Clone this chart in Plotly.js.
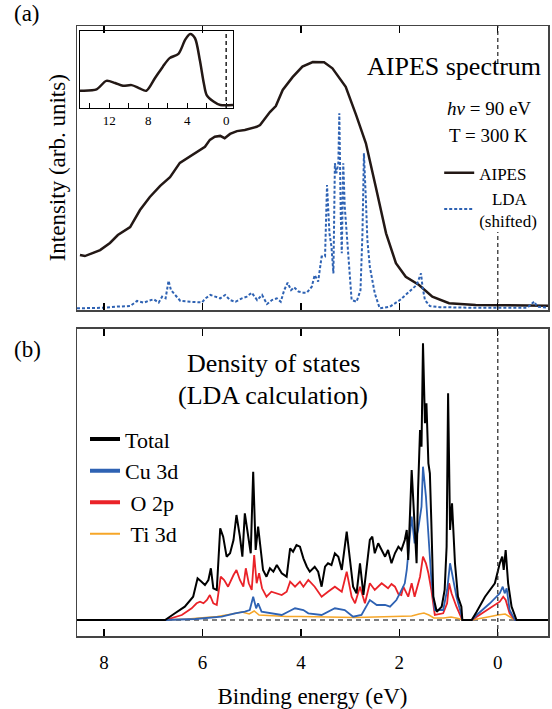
<!DOCTYPE html>
<html>
<head>
<meta charset="utf-8">
<script src="https://cdn.plot.ly/plotly-3.0.1.min.js"></script>
<style>
body{margin:0;padding:0;background:#fff;}
#chart{width:552px;height:709px;}
</style>
</head>
<body>
<div id="chart"></div>
<script>
// ---- Panel (a): AIPES spectrum ----
const aipesE = [8.49, 8.39, 8.08, 7.88, 7.72, 7.47, 7.27, 7.07, 6.86, 6.66, 6.46, 6.21, 6.05, 5.95, 5.85, 5.75, 5.64, 5.55, 5.44, 5.30, 5.14, 5.00, 4.90, 4.83, 4.63, 4.51, 4.37, 4.17, 3.97, 3.76, 3.53, 3.36, 3.09, 2.88, 2.68, 2.48, 2.27, 2.07, 1.87, 1.60, 1.33, 0.99, 0.45, -1.02];
const aipesV = [0.194, 0.190, 0.211, 0.236, 0.264, 0.292, 0.352, 0.398, 0.437, 0.468, 0.518, 0.546, 0.563, 0.575, 0.599, 0.610, 0.613, 0.605, 0.620, 0.630, 0.634, 0.640, 0.645, 0.651, 0.697, 0.718, 0.775, 0.820, 0.857, 0.873, 0.872, 0.851, 0.786, 0.687, 0.587, 0.434, 0.270, 0.165, 0.117, 0.088, 0.047, 0.024, 0.018, 0.015];

const ldaE = [8.55, 8.01, 7.74, 7.47, 7.33, 7.19, 7.09, 6.99, 6.89, 6.82, 6.75, 6.69, 6.64, 6.59, 6.52, 6.45, 6.25, 6.01, 5.94, 5.84, 5.74, 5.64, 5.54, 5.44, 5.33, 5.20, 5.10, 5.00, 4.89, 4.79, 4.69, 4.59, 4.49, 4.41, 4.34, 4.27, 4.20, 4.14, 4.05, 3.95, 3.88, 3.78, 3.72, 3.65, 3.58, 3.51, 3.47, 3.42, 3.38, 3.34, 3.31, 3.28, 3.24, 3.22, 3.19, 3.17, 3.14, 3.11, 3.07, 3.02, 2.97, 2.87, 2.79, 2.75, 2.72, 2.68, 2.65, 2.60, 2.50, 2.40, 2.19, 1.99, 1.79, 1.65, 1.56, 1.53, 1.48, 1.38, 1.18, 0.50, -0.60, -0.70, -0.74, -0.80, -1.02];
const ldaV = [0.006, 0.008, 0.012, 0.014, 0.032, 0.026, 0.033, 0.038, 0.026, 0.047, 0.041, 0.103, 0.070, 0.059, 0.047, 0.032, 0.029, 0.027, 0.041, 0.053, 0.047, 0.041, 0.053, 0.035, 0.029, 0.041, 0.047, 0.061, 0.035, 0.053, 0.021, 0.035, 0.041, 0.029, 0.070, 0.096, 0.070, 0.080, 0.065, 0.061, 0.061, 0.082, 0.123, 0.100, 0.188, 0.188, 0.440, 0.270, 0.223, 0.129, 0.517, 0.481, 0.517, 0.693, 0.329, 0.200, 0.517, 0.364, 0.270, 0.152, 0.035, 0.029, 0.070, 0.270, 0.552, 0.387, 0.246, 0.152, 0.059, 0.006, 0.012, 0.035, 0.065, 0.088, 0.129, 0.082, 0.035, 0.014, 0.010, 0.008, 0.008, 0.025, 0.030, 0.012, 0.008];

// Inset: wide-range spectrum
const insetE = [15.0, 14.77, 13.3, 12.3, 11.4, 10.6, 9.7, 8.9, 8.2, 7.3, 6.5, 5.8, 4.9, 4.2, 3.7, 3.2, 2.7, 2.3, 2.0, 1.3, 0.6, -0.7];
const insetV = [0.20, 0.20, 0.22, 0.34, 0.31, 0.27, 0.28, 0.235, 0.20, 0.38, 0.54, 0.66, 0.72, 0.92, 1.00, 0.94, 0.63, 0.31, 0.14, 0.05, 0.0, 0.0];

// ---- Panel (b): LDA density of states ----
const totalE = [8.55, 6.76, 6.56, 6.36, 6.19, 6.10, 6.02, 5.95, 5.88, 5.83, 5.78, 5.71, 5.64, 5.58, 5.51, 5.44, 5.37, 5.31, 5.24, 5.19, 5.14, 5.07, 5.02, 4.97, 4.92, 4.87, 4.81, 4.77, 4.70, 4.63, 4.56, 4.49, 4.39, 4.29, 4.22, 4.16, 4.09, 4.02, 3.95, 3.88, 3.82, 3.72, 3.65, 3.58, 3.51, 3.45, 3.38, 3.31, 3.24, 3.17, 3.07, 3.01, 2.94, 2.87, 2.80, 2.73, 2.67, 2.60, 2.55, 2.50, 2.43, 2.36, 2.29, 2.23, 2.16, 2.09, 2.02, 1.96, 1.89, 1.85, 1.82, 1.75, 1.71, 1.65, 1.62, 1.58, 1.55, 1.52, 1.48, 1.45, 1.41, 1.38, 1.35, 1.31, 1.24, 1.14, 1.08, 1.04, 1.01, 0.97, 0.93, 0.87, 0.81, 0.74, 0.72, 0.53, 0.43, 0.26, 0.06, -0.04, -0.09, -0.12, -0.16, -0.21, -0.28, -0.38, -1.02];
const totalV = [0, 0, 0.67, 1.33, 2.33, 4.17, 3.83, 3.5, 4.0, 5.17, 3.17, 3.0, 9.17, 8.33, 6.33, 6.67, 8.0, 10.5, 8.33, 6.33, 10.67, 8.0, 6.67, 14.83, 7.0, 9.33, 7.0, 5.0, 4.33, 5.17, 4.83, 5.5, 4.67, 4.33, 7.17, 6.83, 7.5, 7.33, 6.17, 5.33, 4.83, 5.33, 4.83, 3.33, 5.33, 5.67, 5.5, 6.67, 6.33, 5.0, 8.83, 6.33, 3.33, 2.67, 5.67, 2.5, 5.0, 8.0, 8.33, 6.67, 7.67, 7.0, 6.33, 7.0, 5.67, 6.67, 7.33, 7.0, 8.0, 9.0, 6.0, 15.0, 11.67, 5.67, 13.0, 19.0, 17.33, 27.67, 19.67, 21.67, 15.67, 14.67, 9.67, 2.33, 0.83, 1.33, 3.0, 7.33, 22.67, 9.0, 11.67, 5.67, 2.33, 1.33, 0, 0, 0.83, 2.33, 3.67, 5.67, 6.33, 5.0, 7.0, 3.67, 1.33, 0, 0];

const cuE = [8.55, 6.76, 6.15, 5.61, 5.34, 5.14, 5.04, 4.97, 4.91, 4.87, 4.80, 4.60, 4.39, 4.26, 4.12, 3.95, 3.85, 3.58, 3.31, 3.11, 2.94, 2.77, 2.60, 2.46, 2.29, 2.19, 2.13, 2.06, 1.99, 1.92, 1.89, 1.85, 1.75, 1.69, 1.62, 1.55, 1.52, 1.46, 1.41, 1.35, 1.28, 1.11, 1.03, 0.97, 0.93, 0.84, 0.74, 0.72, 0.53, 0.43, 0.16, -0.04, -0.10, -0.14, -0.18, -0.24, -0.35, -1.02];
const cuV = [0, 0, 0.1, 0.33, 0.67, 0.83, 1.0, 2.33, 1.17, 1.67, 0.83, 0.67, 0.5, 0.83, 1.17, 1.0, 0.67, 0.5, 1.17, 1.0, 0.33, 0.5, 2.0, 1.5, 1.5, 1.33, 1.67, 2.0, 2.67, 3.33, 3.67, 5.0, 10.33, 7.67, 9.0, 11.33, 15.33, 12.33, 8.33, 4.0, 1.0, 1.0, 3.0, 5.67, 4.67, 2.33, 0.5, 0, 0, 0.5, 1.67, 2.67, 3.33, 2.67, 3.17, 1.0, 0, 0];

const oE = [8.55, 6.76, 6.42, 6.22, 6.12, 6.05, 5.98, 5.91, 5.85, 5.78, 5.71, 5.63, 5.56, 5.48, 5.37, 5.31, 5.24, 5.17, 5.12, 5.06, 5.00, 4.95, 4.90, 4.85, 4.79, 4.70, 4.60, 4.49, 4.39, 4.29, 4.22, 4.12, 4.02, 3.95, 3.85, 3.72, 3.58, 3.45, 3.31, 3.17, 3.07, 2.97, 2.90, 2.80, 2.70, 2.60, 2.50, 2.36, 2.23, 2.16, 2.09, 2.02, 1.96, 1.92, 1.82, 1.75, 1.69, 1.58, 1.52, 1.46, 1.41, 1.35, 1.28, 1.11, 1.03, 0.99, 0.94, 0.84, 0.74, 0.72, 0.53, 0.43, 0.16, -0.04, -0.11, -0.16, -0.24, -0.35, -1.02];
const oV = [0, 0, 0.5, 1.17, 1.67, 1.83, 1.67, 2.0, 2.5, 1.67, 1.5, 4.33, 4.0, 3.33, 4.5, 5.0, 4.0, 3.33, 5.17, 3.67, 3.0, 6.5, 3.67, 4.67, 3.17, 2.33, 2.83, 2.67, 2.5, 2.83, 3.83, 3.33, 3.83, 3.33, 4.0, 3.33, 2.33, 2.83, 3.33, 2.83, 4.83, 2.33, 1.67, 3.33, 1.67, 3.67, 3.0, 3.67, 3.17, 3.6, 3.33, 2.6, 2.5, 3.33, 2.33, 3.67, 2.33, 4.33, 6.33, 5.67, 4.67, 3.0, 0.5, 0.67, 1.67, 3.67, 2.67, 1.33, 0.33, 0, 0, 0.33, 1.17, 1.83, 2.33, 2.0, 0.67, 0, 0];

const tiE = [8.55, 6.76, 6.30, 6.00, 5.70, 5.40, 5.20, 5.05, 4.95, 4.85, 4.60, 4.30, 4.00, 3.60, 3.20, 2.90, 2.50, 2.00, 1.75, 1.60, 1.50, 1.40, 1.30, 1.10, 0.95, 0.80, 0.72, 0.53, 0.40, 0.20, 0.00, -0.15, -0.25, -0.35, -1.02];
const tiV = [0, 0, 0.1, 0.2, 0.35, 0.6, 0.8, 0.6, 0.9, 0.5, 0.4, 0.35, 0.35, 0.3, 0.3, 0.25, 0.3, 0.35, 0.4, 0.6, 0.7, 0.5, 0.2, 0.2, 0.3, 0.15, 0, 0, 0.1, 0.3, 0.5, 0.6, 0.3, 0, 0];

const xTicks = [8, 6, 4, 2, 0];
const xTickText = ['8', '6', '4', '2', '0'];
const insetTicks = [12, 8, 4, 0];
const insetTickText = ['12', '8', '4', '0'];
const insetMinor = [14, 10, 6, 2];

const BLACK = '#000000', BLUE = '#2e62b3', RED = '#ea2228', ORANGE = '#f6a628', BROWN = '#231815';
const FONT = 'Liberation Serif, serif';
const fnt = (size) => ({family: FONT, size: size, color: '#000'});

const traces = [
  {x: aipesE, y: aipesV, xaxis: 'x2', yaxis: 'y2', mode: 'lines', name: 'AIPES', legend: 'legend2',
   line: {color: BROWN, width: 2.5}},
  {x: ldaE, y: ldaV, xaxis: 'x2', yaxis: 'y2', mode: 'lines', name: '\u00a0\u00a0\u00a0LDA<br>(shifted)', legend: 'legend2',
   line: {color: BLUE, width: 2, dash: '3px,2px'}},
  {x: insetE, y: insetV, xaxis: 'x3', yaxis: 'y3', mode: 'lines', showlegend: false,
   line: {color: BROWN, width: 2.5, shape: 'spline', smoothing: 0.8}},
  {x: tiE, y: tiV, xaxis: 'x', yaxis: 'y', mode: 'lines', showlegend: false, line: {color: ORANGE, width: 1.5}},
  {x: oE, y: oV, xaxis: 'x', yaxis: 'y', mode: 'lines', showlegend: false, line: {color: RED, width: 1.8}},
  {x: cuE, y: cuV, xaxis: 'x', yaxis: 'y', mode: 'lines', showlegend: false, line: {color: BLUE, width: 1.8}},
  {x: totalE, y: totalV, xaxis: 'x', yaxis: 'y', mode: 'lines', showlegend: false, line: {color: BLACK, width: 2}},
  // legend entries for panel (b)
  {x: [null], y: [null], xaxis: 'x', yaxis: 'y', mode: 'lines', name: 'Total', legend: 'legend', line: {color: BLACK, width: 4}},
  {x: [null], y: [null], xaxis: 'x', yaxis: 'y', mode: 'lines', name: 'Cu 3d', legend: 'legend', line: {color: BLUE, width: 4}},
  {x: [null], y: [null], xaxis: 'x', yaxis: 'y', mode: 'lines', name: '\u00a0O 2p', legend: 'legend', line: {color: RED, width: 4}},
  {x: [null], y: [null], xaxis: 'x', yaxis: 'y', mode: 'lines', name: '\u00a0Ti 3d', legend: 'legend', line: {color: ORANGE, width: 2}}
];

const frame = {showline: true, linecolor: '#444', linewidth: 1.5, mirror: true, showgrid: false, zeroline: false};
const xcommon = Object.assign({}, frame, {range: [8.55, -1.02], tickvals: xTicks, ticktext: xTickText,
  ticks: 'inside', ticklen: 7, tickwidth: 1.2, tickcolor: '#000', mirror: 'ticks'});

const layout = {
  width: 552, height: 709,
  margin: {l: 77, r: 4, t: 26, b: 73},
  paper_bgcolor: '#fff', plot_bgcolor: 'rgba(0,0,0,0)',
  font: fnt(16),
  xaxis: Object.assign({}, xcommon, {domain: [0, 1], anchor: 'y', tickfont: fnt(19),
    ticklabelstandoff: 9,
    title: {text: 'Binding energy (eV)', font: fnt(23), standoff: 16}}),
  yaxis: Object.assign({}, frame, {domain: [0, 0.5033], range: [-1.6, 29.1], showticklabels: false, ticks: ''}),
  xaxis2: Object.assign({}, xcommon, {domain: [0, 1], anchor: 'y2', showticklabels: false}),
  yaxis2: Object.assign({}, frame, {domain: [0.5344, 1], range: [0, 1], showticklabels: false, ticks: ''}),
  xaxis3: {domain: [0.0064, 0.3312], anchor: 'y3', range: [15, -0.7], tickvals: insetTicks, ticktext: insetTickText,
    ticks: 'inside', ticklen: 5, tickwidth: 1.2, tickcolor: '#000', tickfont: fnt(13),
    minor: {tickvals: insetMinor, ticks: 'inside', ticklen: 5, tickwidth: 1.2, tickcolor: '#000'},
    showline: true, linecolor: '#000', linewidth: 1.5, mirror: true, showgrid: false, zeroline: false},
  yaxis3: {domain: [0.8656, 0.9918], anchor: 'x3', range: [-0.042, 1.042], showticklabels: false, ticks: '',
    showline: true, linecolor: '#000', linewidth: 1.5, mirror: true, showgrid: false, zeroline: false},
  legend: {x: 0.017, y: 0.357, xanchor: 'left', yanchor: 'top', font: fnt(22),
    bgcolor: 'rgba(0,0,0,0)', traceorder: 'normal'},
  legend2: {x: 0.769, y: 0.788, xanchor: 'left', yanchor: 'top', font: fnt(17),
    bgcolor: 'rgba(0,0,0,0)', traceorder: 'normal'},
  shapes: [
    {type: 'line', xref: 'x domain', yref: 'y', x0: 0, x1: 1, y0: 0, y1: 0, layer: 'below',
     line: {color: '#555', width: 1.5, dash: '5px,4px'}},
    {type: 'line', xref: 'x', yref: 'y domain', x0: 0, x1: 0, y0: 0, y1: 1,
     line: {color: '#222', width: 1.2, dash: '4px,3px'}},
    {type: 'line', xref: 'x2', yref: 'y2 domain', x0: 0, x1: 0, y0: 0.87, y1: 1,
     line: {color: '#222', width: 1.2, dash: '4px,3px'}},
    {type: 'line', xref: 'x2', yref: 'y2 domain', x0: 0, x1: 0, y0: 0, y1: 0.275,
     line: {color: '#222', width: 1.2, dash: '4px,3px'}},
    {type: 'line', xref: 'x3', yref: 'y3 domain', x0: 0, x1: 0, y0: 0, y1: 1,
     line: {color: '#222', width: 1.5, dash: '4px,3px'}}
  ],
  annotations: [
    {text: '(a)', xref: 'paper', yref: 'paper', x: -0.106, y: 1.0197, xanchor: 'center', yanchor: 'middle', showarrow: false, font: fnt(23)},
    {text: '(b)', xref: 'paper', yref: 'paper', x: -0.106, y: 0.4689, xanchor: 'center', yanchor: 'middle', showarrow: false, font: fnt(23)},
    {text: 'Intensity (arb. units)', xref: 'paper', yref: 'paper', x: -0.042, y: 0.767, xanchor: 'center', yanchor: 'middle', textangle: -90, showarrow: false, font: fnt(23)},
    {text: 'AIPES spectrum', xref: 'paper', yref: 'paper', x: 0.989, y: 0.934, xanchor: 'right', yanchor: 'middle', showarrow: false, font: fnt(26)},
    {text: '<i>hν</i> = 90 eV', xref: 'paper', yref: 'paper', x: 0.968, y: 0.864, xanchor: 'right', yanchor: 'middle', showarrow: false, font: fnt(19)},
    {text: 'T = 300 K', xref: 'paper', yref: 'paper', x: 0.962, y: 0.821, xanchor: 'right', yanchor: 'middle', showarrow: false, font: fnt(19)},
    {text: 'Density of states', xref: 'paper', yref: 'paper', x: 0.418, y: 0.4475, xanchor: 'center', yanchor: 'middle', showarrow: false, font: fnt(26)},
    {text: '(LDA calculation)', xref: 'paper', yref: 'paper', x: 0.416, y: 0.395, xanchor: 'center', yanchor: 'middle', showarrow: false, font: fnt(26)}
  ]
};

Plotly.newPlot('chart', traces, layout, {displayModeBar: false, staticPlot: true});
</script>
</body>
</html>
